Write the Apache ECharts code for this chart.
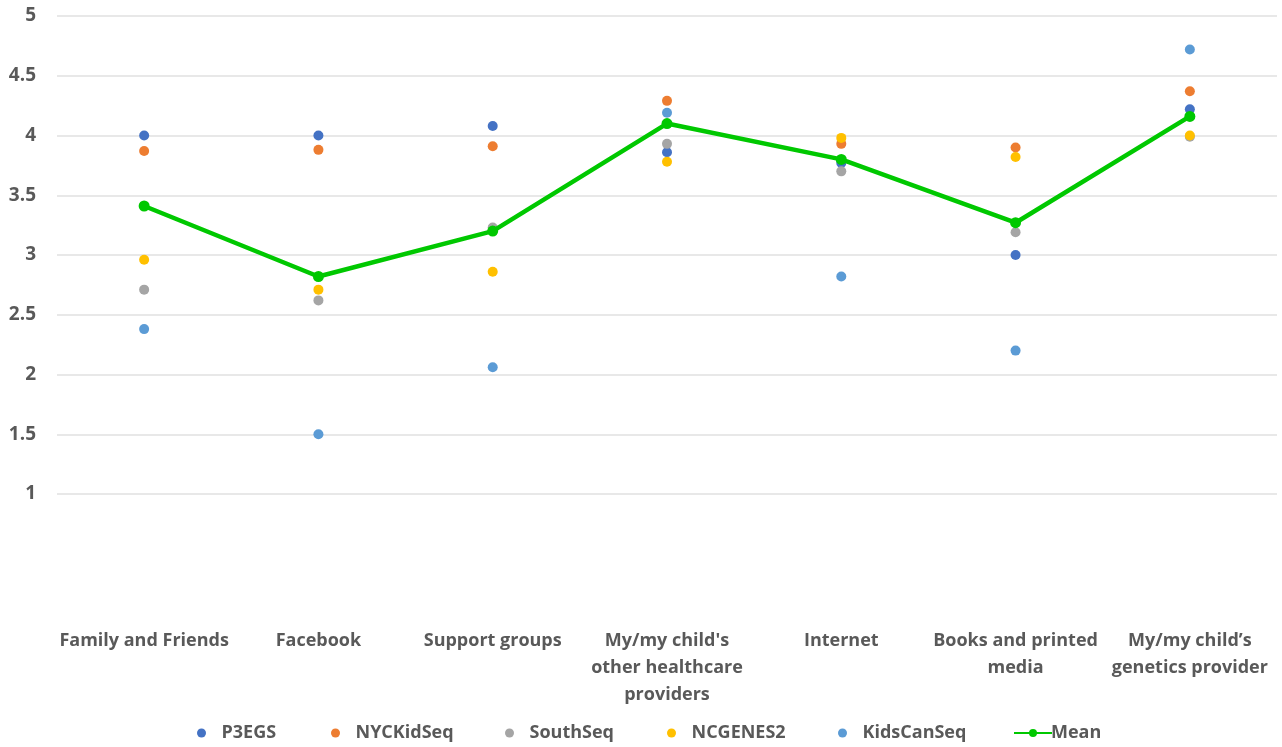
<!DOCTYPE html>
<html>
<head>
<meta charset="utf-8">
<script src="https://cdn.jsdelivr.net/npm/echarts@6/dist/echarts.min.js"></script>
<style>
  html, body { margin: 0; padding: 0; background: #fff; }
  #chart { width: 1282px; height: 747px; }
</style>
</head>
<body>
<div id="chart"></div>
<script>
// Sources of information, rated per study cohort (1–5 scale)
const categories = [
  'Family and Friends',
  'Facebook',
  'Support groups',
  "My/my child's\nother healthcare\nproviders",
  'Internet',
  'Books and printed\nmedia',
  'My/my child\u2019s\ngenetics provider'
];

const p3egs      = [4.00, 4.00, 4.08, 3.86, 3.77, 3.00, 4.22];
const nycKidSeq  = [3.87, 3.88, 3.91, 4.29, 3.93, 3.90, 4.37];
const southSeq   = [2.71, 2.62, 3.23, 3.93, 3.70, 3.19, 3.99];
const ncgenes2   = [2.96, 2.71, 2.86, 3.78, 3.98, 3.82, 4.00];
const kidsCanSeq = [2.38, 1.50, 2.06, 4.19, 2.82, 2.20, 4.72];
const meanScore  = [3.41, 2.82, 3.20, 4.10, 3.80, 3.27, 4.16];

const yTicks = { min: 1, max: 5, step: 0.5 };

const font = '"Open Sans", Lato, sans-serif';
const textColor = '#595959';

const cohorts = [
  { name: 'P3EGS',      data: p3egs,      color: '#4472C4', left: 192 },
  { name: 'NYCKidSeq',  data: nycKidSeq,  color: '#ED7D31', left: 326 },
  { name: 'SouthSeq',   data: southSeq,   color: '#A5A5A5', left: 500 },
  { name: 'NCGENES2',   data: ncgenes2,   color: '#FFC000', left: 662 },
  { name: 'KidsCanSeq', data: kidsCanSeq, color: '#5B9BD5', left: 833 }
];

const legendText = { fontFamily: font, fontSize: 18, fontWeight: 'bold', color: textColor };

// one legend entry per cohort, laid out along the bottom
const legends = cohorts.map(c => ({
  left: c.left, top: 719,
  itemWidth: 30, itemHeight: 9,
  icon: 'circle',
  textStyle: legendText,
  data: [c.name]
}));
legends.push({
  left: 1008, top: 719,
  itemWidth: 38, itemHeight: 10,
  textStyle: Object.assign({ padding: [0, 0, 0, -6] }, legendText),
  data: ['Mean']
});

const series = cohorts.map(c => ({
  name: c.name, type: 'line', data: c.data,
  lineStyle: { width: 0, opacity: 0 },
  symbol: 'circle', symbolSize: 10,
  itemStyle: { color: c.color },
  emphasis: { disabled: true },
  z: 3
}));
series.push({
  name: 'Mean', type: 'line', data: meanScore,
  symbol: 'circle', symbolSize: 11,
  lineStyle: { color: '#00C800', width: 4.5 },
  itemStyle: { color: '#00C800' },
  emphasis: { disabled: true },
  z: 4
});

const chart = echarts.init(document.getElementById('chart'), null, { renderer: 'canvas' });
chart.setOption({
  animation: false,
  backgroundColor: '#ffffff',
  grid: { left: 57, right: 5, top: 16, bottom: 253, containLabel: false },
  legend: legends,
  xAxis: {
    type: 'category',
    data: categories,
    boundaryGap: true,
    axisLine: { show: false },
    axisTick: { show: false },
    axisLabel: {
      margin: 133,
      interval: 0,
      fontFamily: font, fontSize: 18, fontWeight: 'bold', color: textColor,
      lineHeight: 27, verticalAlign: 'top'
    }
  },
  yAxis: {
    type: 'value',
    min: yTicks.min, max: yTicks.max, interval: yTicks.step,
    axisLine: { show: false },
    axisTick: { show: false },
    splitLine: { lineStyle: { color: '#e0e0e0', width: 1.5 } },
    axisLabel: {
      margin: 21,
      fontFamily: font, fontSize: 19, fontWeight: 'bold', color: textColor
    }
  },
  series
});
</script>
</body>
</html>
